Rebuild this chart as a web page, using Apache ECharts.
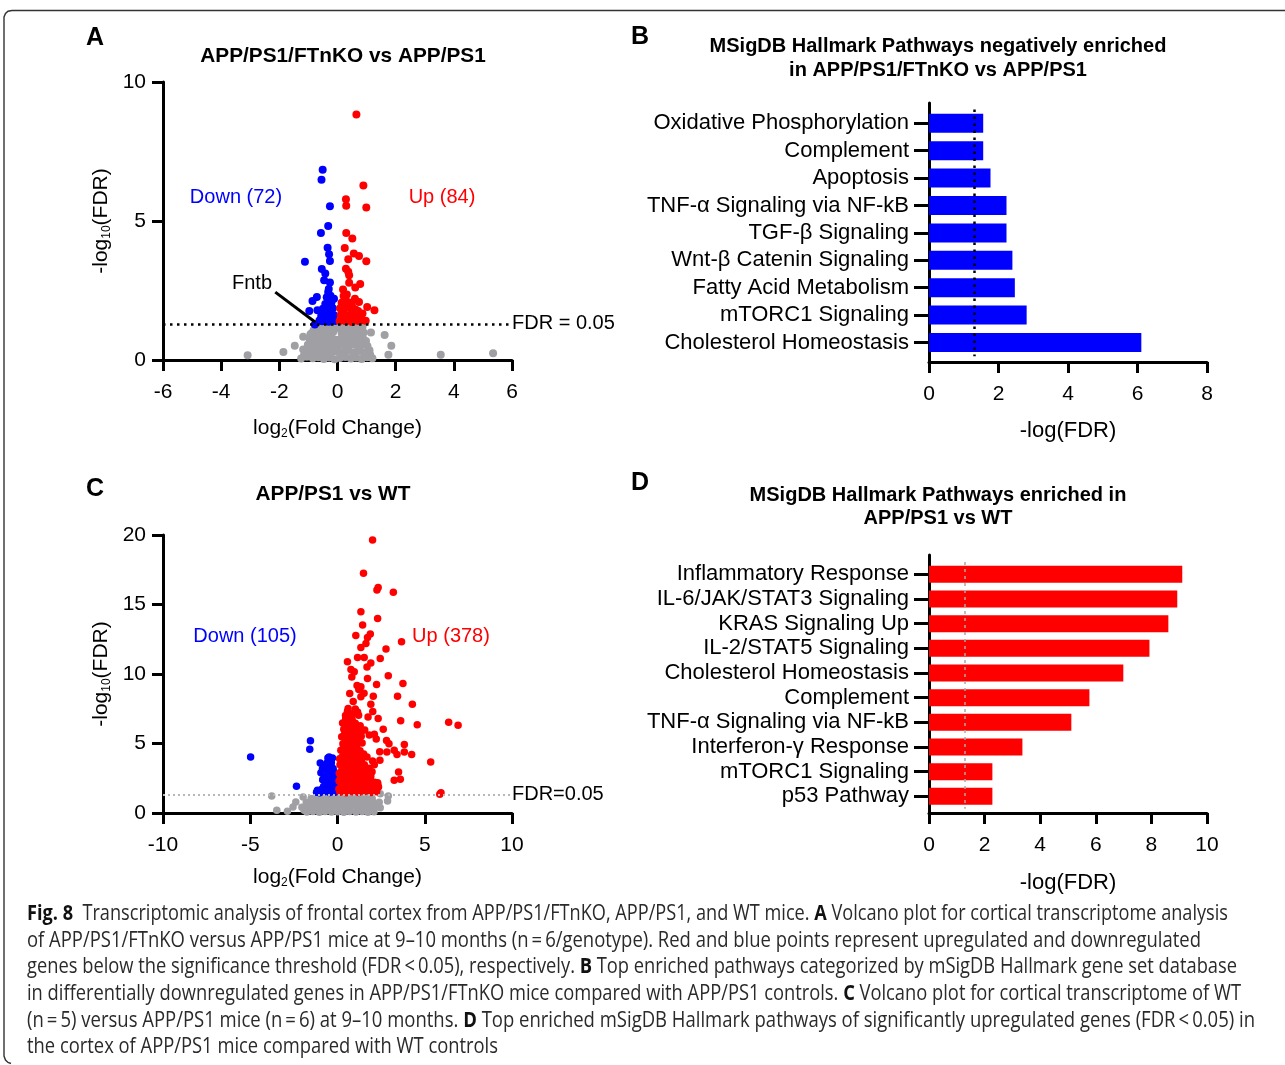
<!DOCTYPE html>
<html><head><meta charset="utf-8">
<script src="https://cdn.jsdelivr.net/npm/echarts/dist/echarts.min.js"></script>
<style>html,body{margin:0;padding:0;background:#fff}#c{width:1285px;height:1065px}</style>
</head><body><div id="c"></div><script>
// ---------- DATA ----------
// Panel A: APP/PS1/FTnKO vs APP/PS1 volcano ([log2FC, -log10 FDR])
const aUp = [[0.65,8.83],[0.89,6.28],[0.29,5.78],[0.3,5.55],[0.99,5.49],[0.3,4.57],[0.51,4.37],[0.25,4.03],[0.56,3.83],[0.74,3.74],[0.37,3.62],[0.99,3.55],[0.29,3.28],[0.37,3.17],[0.4,3.05],[0.78,2.73],[0.4,2.78],[0.61,2.61],[0.19,2.54],[0.29,2.15],[0.74,2.09],[1.02,1.91],[1.27,1.79],[0.51,1.91],[0.86,1.67],[0.17,1.79],[0.97,1.41],
  [0.07,1.4],[0.17,1.44],[0.28,1.39],[0.39,1.42],[0.5,1.37],[0.61,1.45],[0.72,1.4],[0.83,1.43],[0.11,1.62],[0.22,1.66],[0.33,1.58],[0.44,1.63],[0.55,1.7],[0.66,1.6],[0.77,1.55],[0.09,1.86],[0.2,1.81],[0.31,1.92],[0.42,1.86],[0.62,1.82],[0.71,1.76],[0.14,2.06],[0.25,2.11],[0.36,2.02],[0.49,2.07],[0.21,2.3],[0.32,2.36],[0.6,2.2]];
const aDown = [[-0.51,6.84],[-0.55,6.48],[-0.26,5.53],[-0.32,4.82],[-0.57,4.57],[-0.34,4.04],[-0.29,3.8],[-0.26,3.56],[-1.12,3.53],[-0.54,3.27],[-0.42,3.11],[-0.46,2.87],[-0.26,2.79],[-0.32,2.45],[-0.71,2.27],[-0.86,2.12],[-0.97,1.76],[-0.69,1.79],[-0.78,1.28],
  [-0.08,1.4],[-0.19,1.43],[-0.3,1.38],[-0.41,1.45],[-0.52,1.39],[-0.62,1.42],[-0.13,1.62],[-0.24,1.66],[-0.35,1.57],[-0.46,1.63],[-0.56,1.58],[-0.16,1.86],[-0.27,1.81],[-0.38,1.91],[-0.5,1.84],[-0.21,2.06],[-0.31,2.12],[-0.42,2.01],[-0.24,2.31],[-0.37,2.26],[-0.12,2.2],[-0.3,2.55]];
const aNS = [[-3.09,0.17],[-1.86,0.29],[-1.47,0.51],[-1.18,0.84],[-1.18,0.38],[-0.93,0.93],[1.15,0.99],[1.62,0.9],[1.85,0.51],[1.75,0.19],[3.55,0.19],[5.35,0.24],[0.86,1.2],
  [-1.25,0.05],[-1.05,0.12],[-0.85,0.06],[-0.66,0.1],[-0.47,0.04],[-0.28,0.09],[-0.1,0.03],[0.08,0.07],[0.27,0.11],[0.46,0.05],[0.64,0.09],[0.83,0.04],[1.02,0.1],[1.2,0.06],
  [-1.12,0.32],[-0.93,0.27],[-0.74,0.33],[-0.55,0.28],[-0.36,0.34],[-0.17,0.29],[0.02,0.31],[0.2,0.26],[0.39,0.33],[0.58,0.28],[0.77,0.32],[0.95,0.27],[1.1,0.35],
  [-1.02,0.55],[-0.84,0.5],[-0.65,0.56],[-0.46,0.52],[-0.27,0.57],[-0.09,0.51],[0.11,0.54],[0.3,0.5],[0.49,0.56],[0.68,0.52],[0.87,0.55],[1.03,0.5],
  [-0.96,0.76],[-0.78,0.72],[-0.59,0.78],[-0.4,0.74],[-0.21,0.79],[-0.06,0.73],[0.12,0.77],[0.31,0.72],[0.5,0.78],[0.69,0.74],[0.88,0.77],
  [-0.88,0.97],[-0.7,0.95],[-0.51,1.0],[-0.32,0.96],[-0.15,1.01],[0.14,0.98],[0.33,0.94],[0.52,1.0],[0.71,0.96],[0.9,0.99],
  [-0.76,1.16],[-0.58,1.2],[-0.4,1.14],[-0.22,1.19],[-0.08,1.12],[0.1,1.15],[0.27,1.21],[0.45,1.16],[0.63,1.2],[0.8,1.14],
  [-0.62,1.28],[-0.44,1.3],[-0.27,1.27],[0.15,1.29],[0.34,1.3],[0.54,1.27],[0.72,1.29],
  [-1.15,0.18],[-0.95,0.41],[-0.76,0.19],[-0.56,0.43],[-0.37,0.2],[-0.18,0.44],[0.1,0.19],[0.29,0.42],[0.55,0.18],[0.74,0.43],[0.93,0.17],[1.12,0.2],
  [-0.9,0.64],[-0.7,0.86],[-0.5,0.65],[-0.3,0.87],[-0.12,0.64],[0.2,0.87],[0.4,0.65],[0.6,0.87],[0.78,0.64],[0.98,0.68],
  [-0.82,1.07],[-0.64,1.09],[-0.45,1.06],[-0.26,1.09],[0.2,1.07],[0.39,1.08],[0.58,1.06],[0.77,1.07]];

// Panel C: APP/PS1 vs WT volcano
const cUp = [[2.01,19.64],[1.49,17.24],[2.33,16.23],[2.26,16.04],[3.2,15.89],[1.34,14.48],[2.3,14.0],[1.44,13.52],[1.05,12.77],[1.88,12.87],[1.72,12.63],[3.67,12.32],[1.63,12.2],[1.34,11.91],[2.78,11.79],[2.45,11.12],[0.57,10.88],[1.15,11.19],[1.53,11.19],[1.91,10.8],[0.77,10.32],[0.96,10.16],[2.91,9.87],[1.72,9.68],[1.34,9.08],[2.24,9.24],[3.75,9.32],[3.44,8.4],[1.34,8.36],[1.91,7.83],[4.29,7.83],[0.57,7.32],[1.15,7.27],[2.33,6.8],[3.62,6.63],[4.57,6.34],[6.37,6.53],[6.91,6.31],[0.42,6.51],[1.44,5.95],[2.11,5.67],[2.22,5.33],[2.95,4.99],[3.83,4.92],[3.25,4.51],[2.83,4.39],[3.41,4.2],[3.83,4.39],[4.25,4.2],[2.43,3.79],[2.01,3.75],[5.34,3.67],[2.11,3.48],[3.5,2.95],[1.91,2.67],[3.25,2.35],[3.6,2.42],[2.3,2.18],[2.35,1.87],[5.93,1.46],[5.86,1.34],
  [0.14,1.5],[0.49,1.46],[0.86,1.53],[1.21,1.48],[1.56,1.55],[1.92,1.47],[2.24,1.52],
  [0.21,2.02],[0.54,1.96],[0.91,2.04],[1.24,1.98],[1.61,2.05],[1.96,1.97],[2.31,2.03],
  [0.16,2.48],[0.51,2.55],[0.84,2.47],[1.19,2.53],[1.56,2.46],[1.88,2.52],
  [0.22,3.02],[0.56,2.96],[0.89,3.04],[1.26,2.98],[1.62,3.03],[1.98,2.97],
  [0.14,3.48],[0.49,3.53],[0.86,3.46],[1.21,3.52],[1.54,3.47],
  [0.26,4.02],[0.61,3.97],[0.94,4.04],[1.31,3.98],[1.69,4.03],
  [0.19,4.52],[0.56,4.47],[0.91,4.54],[1.29,4.48],
  [0.31,4.98],[0.64,5.04],[1.01,4.97],[1.41,5.03],
  [0.24,5.48],[0.61,5.53],[0.94,5.46],[1.36,5.52],
  [0.36,6.02],[0.71,5.97],[1.09,6.04],[1.56,5.98],
  [0.29,6.48],[0.66,6.53],[1.02,6.46],
  [0.46,7.02],[0.79,6.96],[1.21,7.04],
  [0.61,7.52],[1.02,7.48],[0.9,8.02],[1.52,8.61],[1.12,9.18],[0.82,9.79],[1.69,10.5],[1.22,8.88],[2.02,7.31],[2.62,6.02],[2.81,5.21],[1.82,5.62],[2.42,4.41],[1.75,6.9],[2.05,8.4],[0.7,8.6],
  [0.32,1.74],[0.68,1.77],[1.03,1.72],[1.38,1.76],[1.74,1.73],[2.08,1.78],
  [0.35,2.26],[0.72,2.23],[1.06,2.28],[1.42,2.24],[1.78,2.27],[2.12,2.22],
  [0.33,2.76],[0.67,2.73],[1.02,2.78],[1.37,2.74],[1.72,2.77],
  [0.38,3.24],[0.72,3.27],[1.07,3.23],[1.43,3.26],[1.8,3.22],
  [0.31,3.76],[0.68,3.73],[1.03,3.78],[1.37,3.74],
  [0.42,4.26],[0.77,4.23],[1.12,4.28],[1.5,4.24],
  [0.37,4.76],[0.73,4.73],[1.1,4.78],
  [0.47,5.26],[0.82,5.23],[1.2,5.28],
  [0.42,5.76],[0.78,5.73],[1.15,5.78],
  [0.52,6.26],[0.88,6.23],[1.3,6.28],
  [0.47,6.76],[0.84,6.73],[0.62,7.25],[0.98,7.22],
  [0.08,1.72],[0.09,2.3],[0.1,2.86],[0.12,3.9]];
const cDown = [[-4.98,4.03],[-1.55,5.19],[-1.59,4.59],[-2.35,1.92],[-0.48,4.03],[-0.29,3.96],[-0.99,3.6],[-0.86,3.19],[-0.57,3.07],[-0.29,2.71],[-0.77,2.59],[-1.15,1.63],
  [-0.15,1.5],[-0.45,1.48],[-0.75,1.52],[-1.02,1.45],[-0.2,1.95],[-0.5,2.0],[-0.8,1.9],[-0.3,2.4],[-0.6,2.3],[-0.15,2.9],[-0.45,2.7],[-0.7,3.4],[-0.4,3.3],
  [-0.1,1.75],[-0.35,1.75],[-0.6,1.72],[-0.9,1.7],[-1.2,1.5],[-0.1,2.25],[-0.35,2.2],[-0.85,2.4],[-0.1,2.6],[-0.55,2.8],[-0.25,3.2],[-0.95,2.9],[-0.6,3.6],[-0.55,3.95],[-0.35,3.6]];
const cNS = [[-3.77,1.22],[-3.48,0.19],[-2.87,0.12],[-2.39,0.79],[-2.55,0.43],[-1.97,1.15],[-1.91,0.19],[2.91,1.22],[2.87,0.86],[2.45,0.38],[2.45,1.39],
  [-1.76,0.08],[-1.41,0.1],[-1.04,0.06],[-0.71,0.11],[-0.34,0.07],[0.01,0.09],[0.36,0.05],[0.69,0.1],[1.06,0.07],[1.41,0.11],[1.74,0.06],[2.09,0.09],
  [-2.04,0.42],[-1.71,0.45],[-1.34,0.4],[-0.99,0.44],[-0.66,0.41],[-0.29,0.46],[0.04,0.42],[0.41,0.39],[0.74,0.45],[1.11,0.41],[1.44,0.44],[1.81,0.4],[2.16,0.43],
  [-1.79,0.76],[-1.46,0.79],[-1.09,0.74],[-0.76,0.78],[-0.39,0.75],[-0.06,0.8],[0.31,0.76],[0.64,0.73],[1.01,0.78],[1.34,0.75],[1.71,0.79],[2.04,0.74],[2.39,0.77],
  [-1.51,1.05],[-1.14,1.08],[-0.81,1.03],[-0.44,1.07],[-0.11,1.04],[0.26,1.08],[0.59,1.02],[0.96,1.06],[1.29,1.04],[1.66,1.07],[1.99,1.03],
  [-1.19,1.28],[-0.86,1.3],[-0.49,1.26],[-0.16,1.29],[0.21,1.27],[0.56,1.3],[0.89,1.26],[1.26,1.29],[1.59,1.27],[1.94,1.3]];

// Panel B: pathways negatively enriched (-log FDR)
const bCats = ['Oxidative Phosphorylation','Complement','Apoptosis','TNF-α Signaling via NF-kB','TGF-β Signaling','Wnt-β Catenin Signaling','Fatty Acid Metabolism','mTORC1 Signaling','Cholesterol Homeostasis'];
const bVals = [1.56,1.56,1.77,2.23,2.23,2.40,2.47,2.81,6.11];
// Panel D: pathways enriched in APP/PS1 vs WT
const dCats = ['Inflammatory Response','IL-6/JAK/STAT3 Signaling','KRAS Signaling Up','IL-2/STAT5 Signaling','Cholesterol Homeostasis','Complement','TNF-α Signaling via NF-kB','Interferon-γ Response','mTORC1 Signaling','p53 Pathway'];
const dVals = [9.11,8.93,8.61,7.93,6.99,5.77,5.12,3.36,2.28,2.28];
const fdrCut = 1.3;

// ---------- STYLE ----------
const FF = '"Liberation Sans", Arial, sans-serif';
const CF = '"Open Sans", "Noto Sans", sans-serif';
const BLK = '#000';
const chart = echarts.init(document.getElementById('c'), null, {renderer: 'canvas'});

function valX(gi, min, max, interval, show, name, nameGap, nameSize) {
  return {type: 'value', gridIndex: gi, min, max, interval, show,
    axisLine: {show: true, onZero: false, lineStyle: {color: BLK, width: 3}},
    axisTick: {show: true, length: 11, lineStyle: {color: BLK, width: 3}},
    axisLabel: {show: true, color: BLK, fontSize: 21, fontFamily: FF, margin: 22},
    splitLine: {show: false},
    name, nameLocation: 'middle', nameGap,
    nameTextStyle: {color: BLK, fontFamily: FF, fontSize: nameSize,
      rich: {t: {fontSize: nameSize, fontFamily: FF, color: BLK, lineHeight: 24},
             s: {fontSize: 12, fontFamily: FF, color: BLK, lineHeight: 14, verticalAlign: 'bottom'}}}};
}
const yRich = {t: {fontSize: 21, fontFamily: FF, color: BLK, lineHeight: 24},
               s: {fontSize: 12, fontFamily: FF, color: BLK, lineHeight: 14, verticalAlign: 'bottom'}};

const grids = [
  {left: 163, top: 82, width: 349, height: 278},   // A
  {left: 163, top: 535, width: 349, height: 278},  // C
  {left: 929, top: 103, width: 278, height: 259},  // B axes frame
  {left: 929, top: 109.6, width: 278, height: 246.6}, // B bars
  {left: 929, top: 555, width: 278, height: 258},  // D axes frame
  {left: 929, top: 562, width: 278, height: 246.7} // D bars
].map(g => Object.assign({containLabel: false, outerBoundsMode: 'none'}, g));

const xAxes = [
  valX(0, -6, 6, 2, true, '{t|log}{s|2}{t|(Fold Change)}', 56, 21),
  valX(1, -10, 10, 5, true, '{t|log}{s|2}{t|(Fold Change)}', 52, 21),
  valX(2, 0, 8, 2, true, '-log(FDR)', 58, 22),
  {type: 'value', gridIndex: 3, min: 0, max: 8, show: false},
  valX(4, 0, 10, 2, true, '-log(FDR)', 59, 22),
  {type: 'value', gridIndex: 5, min: 0, max: 10, show: false}
];
function valY(gi, min, max, interval) {
  return {type: 'value', gridIndex: gi, min, max, interval,
    axisLine: {show: true, onZero: false, lineStyle: {color: BLK, width: 3}},
    axisTick: {show: true, length: 11, lineStyle: {color: BLK, width: 3}},
    axisLabel: {show: true, color: BLK, fontSize: 21, fontFamily: FF, margin: 17},
    splitLine: {show: false},
    name: '{t|-log}{s|10}{t|(FDR)}', nameLocation: 'middle', nameGap: 50,
    nameTextStyle: {rich: yRich}};
}
function frameY(gi) {
  return {type: 'value', gridIndex: gi, min: 0, max: 1,
    axisLine: {show: true, onZero: false, lineStyle: {color: BLK, width: 3}},
    axisTick: {show: false}, axisLabel: {show: false}, splitLine: {show: false}};
}
function catY(gi, cats) {
  return {type: 'category', gridIndex: gi, data: cats, inverse: true,
    axisLine: {show: false},
    axisTick: {show: true, alignWithLabel: true, interval: 0, length: 15, lineStyle: {color: BLK, width: 3}},
    axisLabel: {show: true, interval: 0, color: BLK, fontSize: 22, fontFamily: FF, margin: 20},
    splitLine: {show: false}};
}
const yAxes = [valY(0, 0, 10, 5), valY(1, 0, 20, 5), frameY(2), catY(3, bCats), frameY(4), catY(5, dCats)];

const GREY = '#a0a0a4', RED = '#ff0000', BLUE = '#0000ff';
function sc(xi, data, color, size, extra) {
  return Object.assign({type: 'scatter', xAxisIndex: xi, yAxisIndex: xi, data, symbolSize: size,
    itemStyle: {color, opacity: 1}, silent: true, clip: false}, extra || {});
}
const series = [
  sc(0, aNS, GREY, 8, {markLine: {silent: true, symbol: 'none', animation: false, data: [
    {yAxis: fdrCut, lineStyle: {color: BLK, type: [2.5, 4.5], width: 2.5},
     label: {show: true, position: 'end', formatter: 'FDR = 0.05', color: BLK, fontSize: 20, fontFamily: FF, distance: 0, padding: [6, 0, 0, 0]}},
    [{coord: [-2.14, 2.44], lineStyle: {color: BLK, type: 'solid', width: 3}, label: {show: false}}, {coord: [-0.76, 1.36]}]
  ]}}),
  sc(0, aDown, BLUE, 8),
  sc(0, aUp, RED, 8),
  sc(1, cNS, GREY, 7.5, {markLine: {silent: true, symbol: 'none', animation: false, data: [
    {yAxis: fdrCut, lineStyle: {color: '#b8b8b8', type: [2, 3], width: 2},
     label: {show: true, position: 'end', formatter: 'FDR=0.05', color: BLK, fontSize: 20, fontFamily: FF, distance: 0, padding: [2, 0, 0, 0]}}
  ]}}),
  sc(1, cDown, BLUE, 7.5),
  sc(1, cUp, RED, 7.5),
  {type: 'bar', xAxisIndex: 3, yAxisIndex: 3, data: bVals, barWidth: 19, itemStyle: {color: BLUE}, silent: true,
   markLine: {silent: true, symbol: 'none', animation: false, label: {show: false},
     data: [{xAxis: fdrCut, lineStyle: {color: BLK, type: [2.5, 4.5], width: 2.5}}]}},
  {type: 'bar', xAxisIndex: 5, yAxisIndex: 5, data: dVals, barWidth: 17, itemStyle: {color: RED}, silent: true,
   markLine: {silent: true, symbol: 'none', animation: false, label: {show: false},
     data: [{xAxis: fdrCut, lineStyle: {color: '#a8a8a8', type: [3, 4], width: 1.5}}]}}
];

// ---------- TEXT ----------
function txt(x, y, text, size, color, bold) {
  return {type: 'text', x, y, silent: true, style: {text, fill: color || BLK, fontSize: size, fontFamily: FF,
    fontWeight: bold ? 'bold' : 'normal', align: 'center', verticalAlign: 'middle'}};
}
const graphics = [
  txt(95, 38, 'A', 25, BLK, true), txt(640, 37, 'B', 25, BLK, true),
  txt(95, 489, 'C', 25, BLK, true), txt(640, 483, 'D', 25, BLK, true),
  txt(343, 56, 'APP/PS1/FTnKO vs APP/PS1', 20.8, BLK, true),
  txt(938, 46, 'MSigDB Hallmark Pathways negatively enriched', 20, BLK, true),
  txt(938, 70, 'in APP/PS1/FTnKO vs APP/PS1', 20, BLK, true),
  txt(333, 494, 'APP/PS1 vs WT', 20.8, BLK, true),
  txt(938, 495, 'MSigDB Hallmark Pathways enriched in', 20, BLK, true),
  txt(938, 518, 'APP/PS1 vs WT', 20, BLK, true),
  txt(236, 197, 'Down (72)', 20, BLUE), txt(442, 197, 'Up (84)', 20, RED),
  txt(245, 636, 'Down (105)', 20, BLUE), txt(451, 636, 'Up (378)', 20, RED),
  txt(252, 283, 'Fntb', 20, BLK),
  {type: 'polyline', silent: true, shape: {points: [[1285, 10.5], [12, 10.5], [8, 11.2], [5.5, 13.5], [4, 17], [4, 1056], [5.5, 1060], [8, 1062.5], [11, 1063.5]]},
   style: {stroke: '#333', lineWidth: 1.4, fill: null}}
];

// caption
const capLines = [
  [['b', 'Fig. 8'], ['n', '  Transcriptomic analysis of frontal cortex from APP/PS1/FTnKO, APP/PS1, and WT mice. '], ['b', 'A'], ['n', ' Volcano plot for cortical transcriptome analysis']],
  [['n', 'of APP/PS1/FTnKO versus APP/PS1 mice at 9–10 months (n\u2009=\u20096/genotype). Red and blue points represent upregulated and downregulated']],
  [['n', 'genes below the significance threshold (FDR\u2009<\u20090.05), respectively. '], ['b', 'B'], ['n', ' Top enriched pathways categorized by mSigDB Hallmark gene set database']],
  [['n', 'in differentially downregulated genes in APP/PS1/FTnKO mice compared with APP/PS1 controls. '], ['b', 'C'], ['n', ' Volcano plot for cortical transcriptome of WT']],
  [['n', '(n\u2009=\u20095) versus APP/PS1 mice (n\u2009=\u20096) at 9–10 months. '], ['b', 'D'], ['n', ' Top enriched mSigDB Hallmark pathways of significantly upregulated genes (FDR\u2009<\u20090.05) in']],
  [['n', 'the cortex of APP/PS1 mice compared with WT controls']]
];
const capY = [914, 941, 967, 994, 1021, 1047];
const capEnd = [1228, 1201, 1237, 1241, 1255, 498];
const capX = 27;
const capSize = 21;
const ctx = document.createElement('canvas').getContext('2d');
function measure(line) {
  let w = 0;
  line.forEach(([k, s]) => { ctx.font = (k === 'b' ? 'bold ' : '') + capSize + 'px ' + CF; w += ctx.measureText(s).width; });
  return w;
}
capLines.forEach((line, i) => {
  const text = line.map(([k, s]) => '{' + k + '|' + s + '}').join('');
  const sx = (capEnd[i] - capX) / measure(line);
  graphics.push({type: 'text', x: capX, y: capY[i], scaleX: sx, silent: true,
    style: {text, fill: '#2a2a2a', fontSize: capSize, fontFamily: CF, align: 'left', verticalAlign: 'middle',
      rich: {n: {fontSize: capSize, fontFamily: CF, fill: '#2a2a2a', color: '#2a2a2a'},
             b: {fontSize: capSize, fontFamily: CF, fontWeight: 'bold', fill: '#111', color: '#111'}}}});
});

chart.setOption({
  animation: false,
  backgroundColor: '#fff',
  grid: grids, xAxis: xAxes, yAxis: yAxes, series,
  graphic: {elements: graphics}
});
</script></body></html>
